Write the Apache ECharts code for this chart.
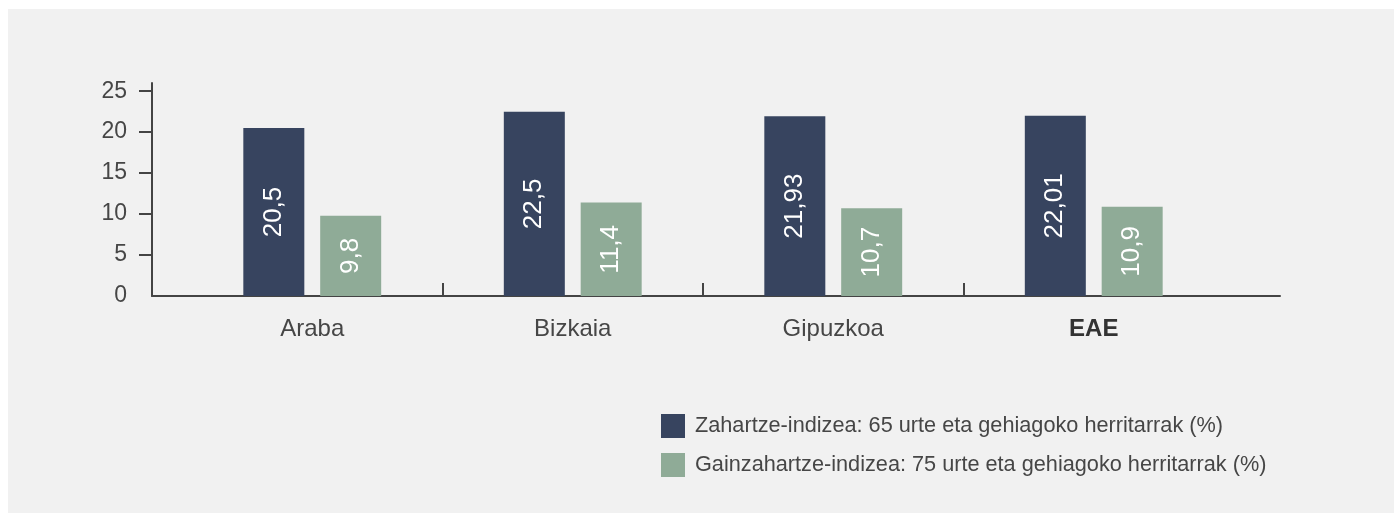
<!DOCTYPE html>
<html>
<head>
<meta charset="utf-8">
<script src="https://cdn.jsdelivr.net/npm/echarts@6/dist/echarts.min.js"></script>
<style>
  html, body { margin: 0; padding: 0; background: #ffffff; }
  #bg { position: absolute; left: 8px; top: 9px; width: 1386px; height: 504px; background: #f1f1f1; }
  #chart { position: absolute; left: 0; top: 0; width: 1394px; height: 513px; }
</style>
</head>
<body>
<div id="bg"></div>
<div id="chart"></div>
<script>
// ---- data ----
const categories = ['Araba', 'Bizkaia', 'Gipuzkoa', 'EAE'];
const boldCategories = ['EAE'];
const seriesNames = [
  'Zahartze-indizea: 65 urte eta gehiagoko herritarrak (%)',
  'Gainzahartze-indizea: 75 urte eta gehiagoko herritarrak (%)'
];
const zahartze = [20.5, 22.5, 21.93, 22.01];
const gainzahartze = [9.8, 11.4, 10.7, 10.9];
const yTickLabels = [0, 5, 10, 15, 20, 25];

// ---- styling ----
const FONT = "'Liberation Sans', 'Helvetica Neue', Arial, sans-serif";
const TEXT = '#464646';
const AXIS = '#444444';
const COLORS = ['#37445f', '#8fab97'];
const Y_MAX = 26;

const chart = echarts.init(document.getElementById('chart'), null, { renderer: 'canvas' });

const fmt = v => String(v).replace('.', ',');

const catData = categories.map(c => boldCategories.includes(c)
  ? { value: c, textStyle: { fontWeight: 'bold', color: '#333' } }
  : c);

const tickBoundaries = categories.slice(0, -1).map((_, i) => i + 0.5);

const option = {
  animation: false,
  textStyle: { fontFamily: FONT },
  grid: [
    { left: 152, right: 114, top: 83, bottom: 217 },
    { left: 182, right: 170, top: 83, bottom: 217 }
  ],
  xAxis: [
    { // axis line across the full plot
      type: 'value', gridIndex: 0, min: 0, max: 1, position: 'bottom',
      axisLine: { show: true, onZero: false, lineStyle: { color: AXIS, width: 2 } },
      axisTick: { show: false }, axisLabel: { show: false }, splitLine: { show: false }
    },
    { // categories
      type: 'category', gridIndex: 1, data: catData, position: 'bottom',
      axisLine: { show: false, onZero: false }, axisTick: { show: false },
      axisLabel: { fontSize: 24, color: TEXT, margin: 21, fontFamily: FONT }
    },
    { // ticks between categories
      type: 'value', gridIndex: 1, min: -0.5, max: categories.length - 0.5, position: 'bottom',
      axisLine: { show: false, onZero: false },
      axisTick: { show: true, inside: true, length: 13, customValues: tickBoundaries,
                  lineStyle: { color: AXIS, width: 2 } },
      axisLabel: { show: false }, splitLine: { show: false }
    }
  ],
  yAxis: [
    {
      type: 'value', gridIndex: 0, min: 0, max: Y_MAX,
      axisLine: { show: true, lineStyle: { color: AXIS, width: 2 } },
      axisTick: { show: true, length: 13, customValues: yTickLabels.filter(v => v > 0),
                  lineStyle: { color: AXIS, width: 2 } },
      axisLabel: { fontSize: 23, color: TEXT, margin: 25, customValues: yTickLabels, fontFamily: FONT },
      splitLine: { show: false }
    },
    {
      type: 'value', gridIndex: 1, min: 0, max: Y_MAX, show: false, splitLine: { show: false }
    }
  ],
  legend: {
    orient: 'vertical', left: 661, top: 414, padding: 0,
    itemWidth: 24, itemHeight: 24, itemGap: 15,
    icon: 'rect',
    textStyle: { fontSize: 21.7, color: TEXT, fontFamily: FONT, padding: [0, 0, 0, 5] },
    data: seriesNames
  },
  series: [
    {
      name: seriesNames[0], type: 'bar', xAxisIndex: 1, yAxisIndex: 1,
      data: zahartze, barWidth: 61, barGap: '26%',
      itemStyle: { color: COLORS[0] },
      label: { show: true, position: 'inside', rotate: 90, color: '#ffffff',
               fontSize: 26, fontFamily: FONT, formatter: p => fmt(p.value) }
    },
    {
      name: seriesNames[1], type: 'bar', xAxisIndex: 1, yAxisIndex: 1,
      data: gainzahartze, barWidth: 61, barGap: '26%',
      itemStyle: { color: COLORS[1] },
      label: { show: true, position: 'inside', rotate: 90, color: '#ffffff',
               fontSize: 26, fontFamily: FONT, formatter: p => fmt(p.value) }
    }
  ]
};

chart.setOption(option);
</script>
</body>
</html>
